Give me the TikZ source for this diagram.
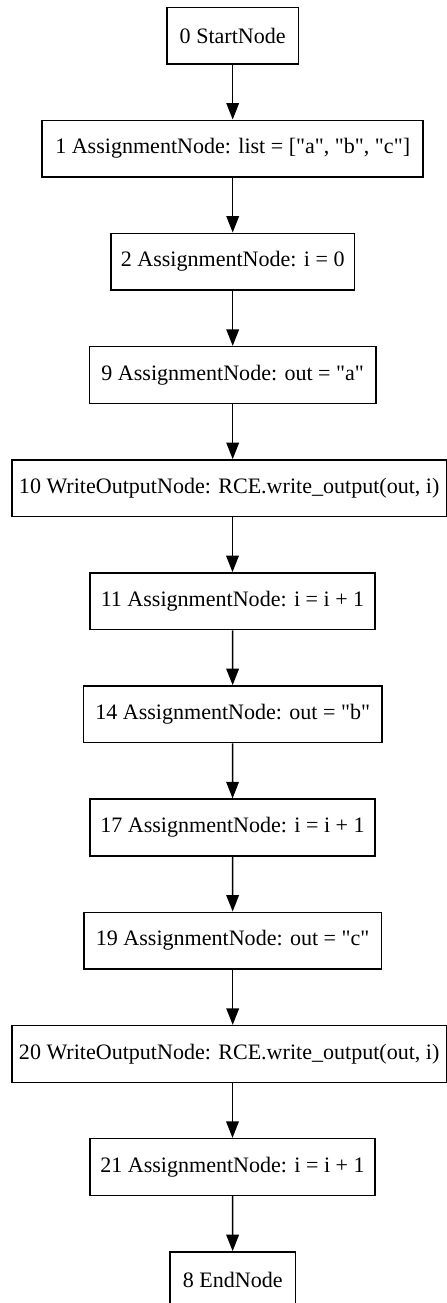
\documentclass[tikz,border=0pt]{standalone}
\usepackage{fontspec}
\setmainfont{Liberation Serif}[Ligatures=TeXOff]
\usetikzlibrary{arrows.meta}
\tikzset{
	box/.style n args={1}{
		draw, rectangle, line width = 1pt,
		minimum height = 36pt, minimum width = #1,
		inner sep = 0pt,
		font = \fontsize{14pt}{16pt}\selectfont
	},
	edge/.style={
		line width = 1pt,
		-{Triangle[length=10.5pt, width=8pt]}
	}
}
\begin{document}
\begin{tikzpicture}[x=0.635pt, y=0.635pt, yscale=-1]
\useasboundingbox (0,0) rectangle (447,1303);
\node[box={83.8pt}] (v0) at ( 232.7, 35.7 ) {0 StartNode};
\node[box={241.9pt}] (v1) at ( 232.7, 148.7 ) {1 AssignmentNode: list = ["a", "b", "c"]};
\node[box={154.7pt}] (v2) at ( 232.7, 261.7 ) {2 AssignmentNode: i = 0};
\node[box={182pt}] (v9) at ( 232.7, 375 ) {9 AssignmentNode: out = "a"};
\node[box={276pt}] (v10) at ( 229.2, 488.3 ) {10 WriteOutputNode: RCE.write\_output(out, i)};
\node[box={181pt}] (v11) at ( 232.5, 601.3 ) {11 AssignmentNode: i = i + 1};
\node[box={189.7pt}] (v14) at ( 232.7, 714.3 ) {14 AssignmentNode: out = "b"};
\node[box={181pt}] (v17) at ( 232.5, 827.5 ) {17 AssignmentNode: i = i + 1};
\node[box={189pt}] (v19) at ( 232.7, 940.7 ) {19 AssignmentNode: out = "c"};
\node[box={276pt}] (v20) at ( 229.2, 1054 ) {20 WriteOutputNode: RCE.write\_output(out, i)};
\node[box={181pt}] (v21) at ( 232.5, 1167 ) {21 AssignmentNode: i = i + 1};
\node[box={79.8pt}] (v8) at ( 232.7, 1280.3 ) {8 EndNode};
\draw[edge] (v0) -- (v1);
\draw[edge] (v1) -- (v2);
\draw[edge] (v2) -- (v9);
\draw[edge] (v9) -- (v10.north -| v9);
\draw[edge] (v10.south -| v11) -- (v11);
\draw[edge] (v11) -- (v14);
\draw[edge] (v14) -- (v17);
\draw[edge] (v17) -- (v19);
\draw[edge] (v19) -- (v20.north -| v19);
\draw[edge] (v20.south -| v21) -- (v21);
\draw[edge] (v21) -- (v8);
\end{tikzpicture}
\end{document}
